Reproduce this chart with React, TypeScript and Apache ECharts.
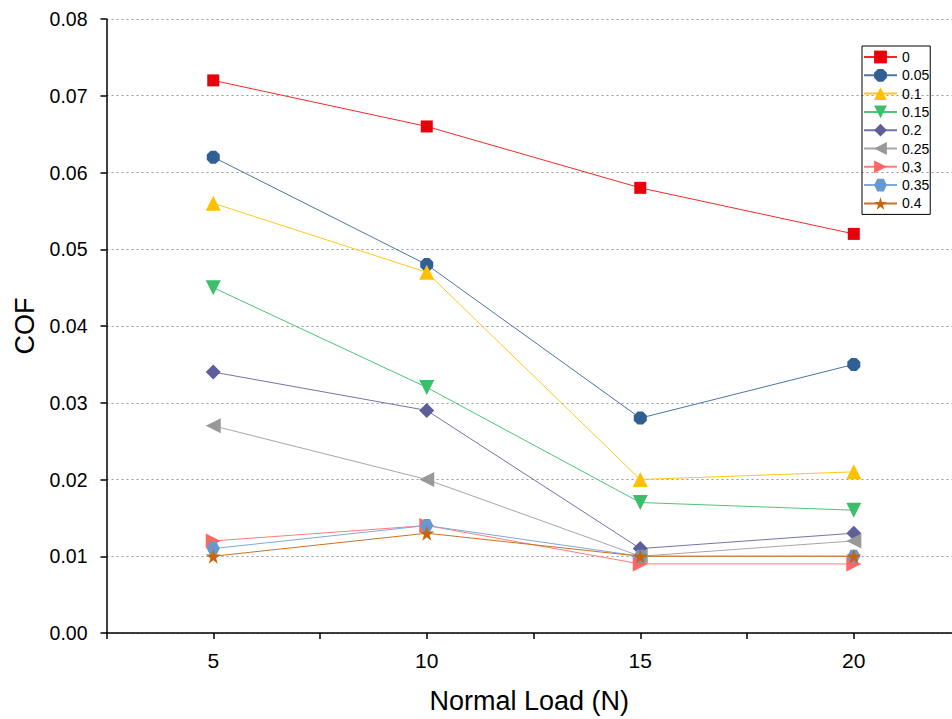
import React, { useEffect, useRef } from "react";
import * as echarts from "echarts";

const loads = [5, 10, 15, 20];
const seriesNames = ["0", "0.05", "0.1", "0.15", "0.2", "0.25", "0.3", "0.35", "0.4"];
const cof0 = [0.072, 0.066, 0.058, 0.052];
const cof005 = [0.062, 0.048, 0.028, 0.035];
const cof01 = [0.056, 0.047, 0.02, 0.021];
const cof015 = [0.045, 0.032, 0.017, 0.016];
const cof02 = [0.034, 0.029, 0.011, 0.013];
const cof025 = [0.027, 0.02, 0.01, 0.012];
const cof03 = [0.012, 0.014, 0.009, 0.009];
const cof035 = [0.011, 0.014, 0.01, 0.01];
const cof04 = [0.01, 0.013, 0.01, 0.01];
const allValues = [cof0, cof005, cof01, cof015, cof02, cof025, cof03, cof035, cof04];

const markerColors = ["#e8000b", "#2f5f93", "#ffc000", "#3cbf6a", "#5e5e9a", "#999999", "#ff6666", "#6699d0", "#c8640e"];
const lineColors = ["#ee2a2a", "#4a76a6", "#ffc81e", "#4cc679", "#7474a8", "#a6a6a6", "#ff7c7c", "#7eaad8", "#cc7222"];
const STAR = "path://M50,0 L61,35 L98,35 L68,57 L79,91 L50,70 L21,91 L32,57 L2,35 L39,35 Z";
const HEX = "path://M25,0 L75,0 L100,50 L75,100 L25,100 L0,50 Z";
const OCT = "path://M30,0 L70,0 L100,30 L100,70 L70,100 L30,100 L0,70 L0,30 Z";
const symbols = ["rect", OCT, "triangle", "triangle", "diamond", "triangle", "triangle", HEX, STAR];
const rotations = [0, 0, 0, 180, 0, 90, -90, 0, 0];
const sizes = [12, 13, 15, 15, 15, 15, 15, 13, 15];

export default function App() {
  const ref = useRef<HTMLDivElement>(null);
  useEffect(() => {
    if (!ref.current) return;
    const chart = echarts.init(ref.current, undefined, { renderer: "svg" });
    const font = "Liberation Sans, Arial, sans-serif";
    chart.setOption({
      animation: false,
      backgroundColor: "#ffffff",
      grid: { left: 106.5, top: 19, bottom: 85, right: 0, containLabel: false },
      legend: {
        orient: "vertical",
        left: 862,
        top: 46,
        itemWidth: 33,
        itemHeight: 16,
        itemGap: 4.3,
        padding: [4, 1, 4, 1],
        borderColor: "#000",
        borderWidth: 1,
        borderRadius: 0,
        textStyle: { fontFamily: font, fontSize: 14, color: "#000" },
        data: seriesNames,
      },
      xAxis: {
        type: "value",
        min: 2.5,
        max: 22.3,
        interval: 2.5,
        name: "Normal Load (N)",
        nameLocation: "middle",
        nameGap: 54,
        nameTextStyle: { fontFamily: font, fontSize: 27, color: "#000" },
        axisLine: { show: true, onZero: false, lineStyle: { color: "#000", width: 1.5 } },
        axisTick: { show: true, inside: false, length: 6, lineStyle: { color: "#000", width: 1.5 } },
        axisLabel: {
          fontFamily: font,
          fontSize: 21,
          color: "#000",
          margin: 17,
          showMaxLabel: false,
          formatter: (v: number) => (v % 5 === 0 ? String(v) : ""),
        },
        splitLine: { show: false },
      },
      yAxis: {
        type: "value",
        min: 0,
        max: 0.08,
        interval: 0.01,
        name: "COF",
        nameLocation: "middle",
        nameGap: 68,
        nameRotate: 90,
        nameTextStyle: { fontFamily: font, fontSize: 27, color: "#000" },
        axisLine: { show: true, lineStyle: { color: "#000", width: 1.5 } },
        axisTick: { show: true, inside: false, length: 6, lineStyle: { color: "#000", width: 1.5 } },
        axisLabel: {
          fontFamily: font,
          fontSize: 19.5,
          color: "#000",
          margin: 19,
          formatter: (v: number) => v.toFixed(2),
        },
        splitLine: { show: true, lineStyle: { color: "#999", type: [2, 3], width: 1 } },
      },
      series: seriesNames.map((name, i) => ({
        name,
        type: "line",
        data: loads.map((x, j) => [x, allValues[i][j]]),
        symbol: symbols[i],
        symbolSize: sizes[i],
        symbolRotate: rotations[i],
        showAllSymbol: true,
        lineStyle: { color: lineColors[i], width: 1 },
        itemStyle: { color: markerColors[i], borderWidth: 0 },
        z: 10 + i,
      })),
    });
    return () => chart.dispose();
  }, []);
  return (
    <div
      ref={ref}
      style={{ position: "fixed", left: 0, top: 0, width: 952, height: 719, background: "#fff" }}
    />
  );
}
